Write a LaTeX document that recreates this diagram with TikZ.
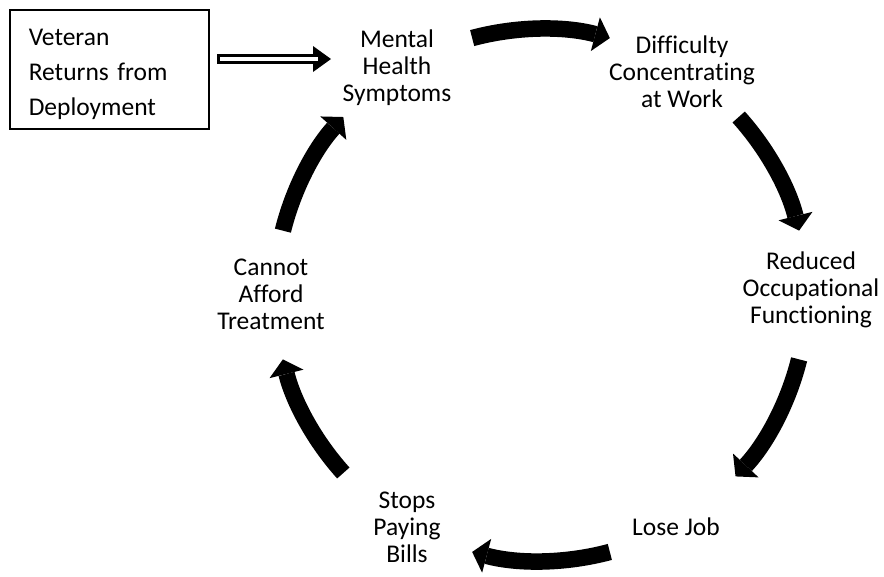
\documentclass[tikz,border=0pt]{standalone}
\usepackage{fontspec}
\setmainfont{Carlito}[Ligatures={NoCommon}]
\usetikzlibrary{arrows.meta,calc}
\begin{document}
\begin{tikzpicture}[x=1pt,y=-1pt,
  lab/.style={font=\fontsize{25.5}{27}\selectfont, align=center, inner sep=0pt, anchor=north},
  cyc/.style={line width=16.5pt, -{Triangle[length=15pt,width=35pt,line width=0pt]}},
  startbox/.style={draw, line width=1.5pt, anchor=north west, minimum width=199pt, minimum height=119pt,
    inner xsep=18pt, inner ysep=0pt, text width=161pt, align=left,
    font=\fontsize{25.5}{35}\selectfont},
]
\useasboundingbox (0,0) rectangle (884,576);

% start box
\node[startbox] (box) at (9,9) {\rule{0pt}{28pt}Veteran\\Returns from\\Deployment\rule[-5pt]{0pt}{5pt}};

% cycle labels
\node[lab] (mental) at (397,28.1) {\strut Mental\\Health\\Symptoms};
\node[lab] (difficulty) at (682,34.1) {\strut Difficulty\\Concentrating\\at Work};
\node[lab] (reduced) at (811,250.1) {\strut Reduced\\Occupational\\Functioning};
\node[lab] (losejob) at (676,516.1) {\strut Lose Job};
\node[lab] (stops) at (407,489.1) {\strut Stops\\Paying\\Bills};
\node[lab] (cannot) at (271,256.1) {\strut Cannot\\Afford\\Treatment};

% hollow arrow from box to mental health symptoms
\coordinate (h1) at (217,59);
\coordinate (h2) at (331,59);
\coordinate (h1w) at (220,59);
\coordinate (h2w) at (318,59);
\draw[line width=10pt, -{Triangle[length=18pt,width=26pt,line width=0pt]}] (h1) -- (h2);
\draw[white, line width=3.5pt] (h1w) -- (h2w);

% cycle arrows
\coordinate (O) at (541,295);
\coordinate (a1) at ($(O)+(105:266pt)$);
\coordinate (a2) at ($(O)+(42:266pt)$);
\coordinate (a3) at ($(O)+(-14:266pt)$);
\coordinate (a4) at ($(O)+(-75:266pt)$);
\coordinate (a5) at ($(O)+(-138:266pt)$);
\coordinate (a6) at ($(O)+(166:266pt)$);
\draw[cyc] (a1) arc[start angle=105,end angle=75,radius=266pt];
\draw[cyc] (a2) arc[start angle=42,end angle=14,radius=266pt];
\draw[cyc] (a3) arc[start angle=-14,end angle=-43,radius=266pt];
\draw[cyc] (a4) arc[start angle=-75,end angle=-105,radius=266pt];
\draw[cyc] (a5) arc[start angle=-138,end angle=-166,radius=266pt];
\draw[cyc] (a6) arc[start angle=166,end angle=138,radius=266pt];
\end{tikzpicture}
\end{document}
